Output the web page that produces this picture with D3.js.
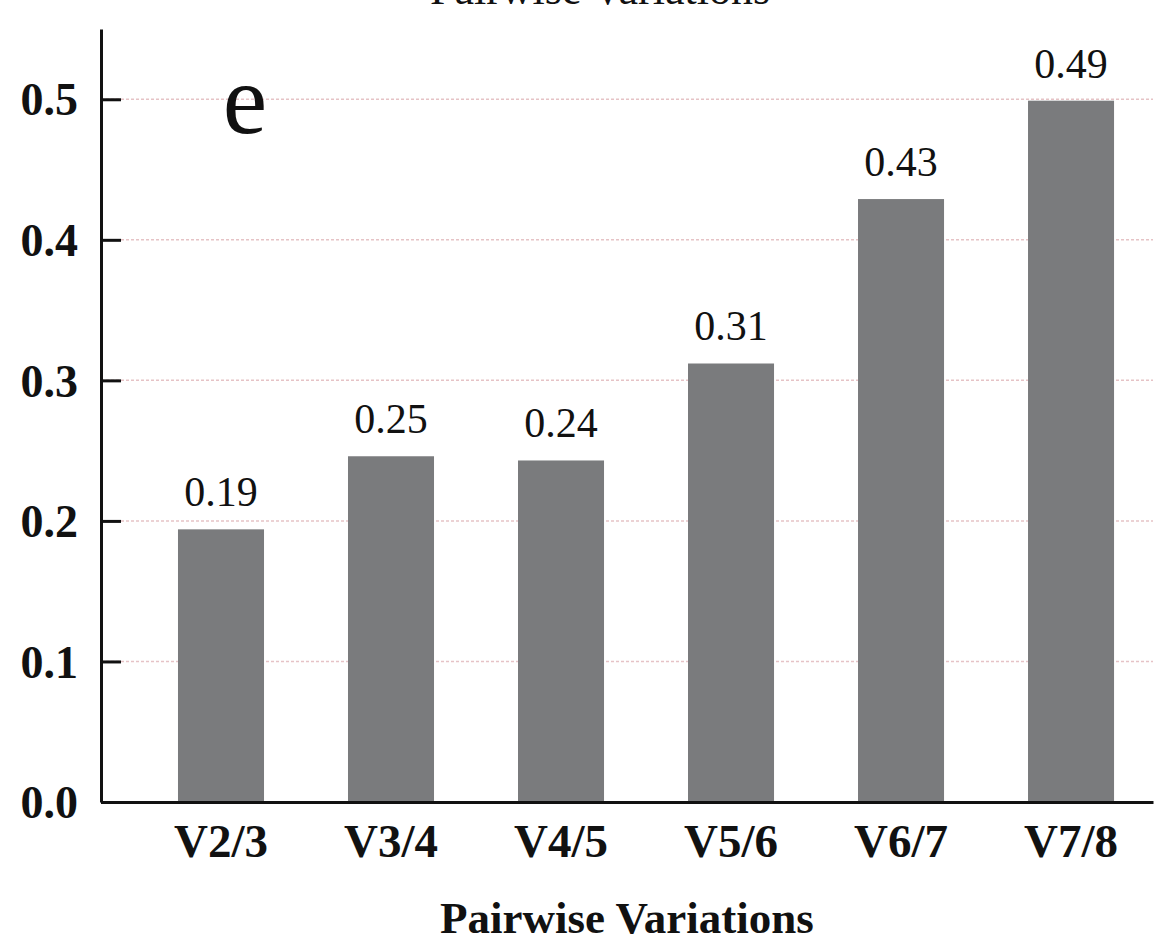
<!DOCTYPE html>
<html>
<head>
<meta charset="utf-8">
<script src="https://cdn.jsdelivr.net/npm/d3@7"></script>
<style>
  body { margin: 0; background: #fff; }
  text { font-family: "Liberation Serif", "Times New Roman", serif; fill: #111; }
</style>
</head>
<body>
<div id="canvas"></div>
<script>
// data
const categories = ["V2/3", "V3/4", "V4/5", "V5/6", "V6/7", "V7/8"];
const values = [0.194, 0.246, 0.243, 0.312, 0.429, 0.499];
const valueLabels = ["0.19", "0.25", "0.24", "0.31", "0.43", "0.49"];
const yTicks = [0.0, 0.1, 0.2, 0.3, 0.4, 0.5];

const width = 1157;
const height = 942;
const margin = { top: 29, left: 101, bottom: 140, right: 4 };
const iwidth = width - margin.left - margin.right;
const iheight = height - margin.top - margin.bottom;

const svg = d3.select("#canvas").append("svg")
    .attr("width", width)
    .attr("height", height);

let g = svg.append("g").attr("transform", `translate(${margin.left},${margin.top})`);

const x = d3.scaleBand()
    .domain(categories)
    .range([0, iwidth])
    .paddingInner(0.494)
    .paddingOuter(0.341)
    .align(0.664);

const y = d3.scaleLinear()
    .domain([0, 0.55])
    .range([iheight, 0]);

// dotted grid lines
g.selectAll(".grid").data(yTicks.filter(d => d > 0)).enter()
    .append("line")
    .attr("class", "grid")
    .attr("x1", 0)
    .attr("x2", iwidth)
    .attr("y1", d => y(d))
    .attr("y2", d => y(d))
    .attr("stroke", "#e6c3c6")
    .attr("stroke-width", 1.5)
    .attr("stroke-dasharray", "3,2");

g.selectAll(".bar").data(values).enter()
    .append("rect")
    .attr("class", "bar")
    .attr("x", (d, i) => x(categories[i]))
    .attr("y", d => y(d))
    .attr("width", x.bandwidth())
    .attr("height", d => y(0) - y(d))
    .style("fill", "#7a7b7d");

g.selectAll(".vlabel").data(values).enter()
    .append("text")
    .attr("class", "vlabel")
    .attr("text-anchor", "middle")
    .attr("x", (d, i) => x(categories[i]) + x.bandwidth() / 2)
    .attr("y", d => y(d) - 23)
    .style("font-size", "42px")
    .text((d, i) => valueLabels[i]);

const yAxis = g.append("g")
    .call(d3.axisLeft(y).tickValues(yTicks).tickFormat(d3.format(".1f"))
        .tickSizeInner(-20).tickSizeOuter(0).tickPadding(23));
yAxis.select(".domain").attr("stroke", "#111").attr("stroke-width", 3);
yAxis.selectAll(".tick line").attr("stroke", "#111").attr("stroke-width", 3);
yAxis.selectAll(".tick text")
    .style("font-size", "46px").style("font-weight", "bold")
    .attr("font-family", null).attr("dy", "0.34em");

const xAxis = g.append("g")
    .attr("transform", `translate(0,${iheight})`)
    .call(d3.axisBottom(x).tickSize(0).tickSizeOuter(0));
xAxis.select(".domain").attr("stroke", "#111").attr("stroke-width", 3);
xAxis.selectAll(".tick text")
    .style("font-size", "47px").style("font-weight", "bold")
    .attr("y", 55).attr("dy", 0);

svg.selectAll(".domain, .tick text").attr("font-family", null);

svg.append("text")
    .attr("text-anchor", "middle")
    .attr("x", margin.left + iwidth / 2)
    .attr("y", 933)
    .style("font-size", "45px")
    .style("font-weight", "bold")
    .text("Pairwise Variations");

// title, mostly cut off at the top of the picture
svg.append("text")
    .attr("text-anchor", "middle")
    .attr("x", 600)
    .attr("y", 4)
    .style("font-size", "44px")
    .text("Pairwise Variations");

svg.append("text")
    .attr("text-anchor", "middle")
    .attr("x", 245)
    .attr("y", 133)
    .style("font-size", "100px")
    .text("e");
</script>
</body>
</html>
